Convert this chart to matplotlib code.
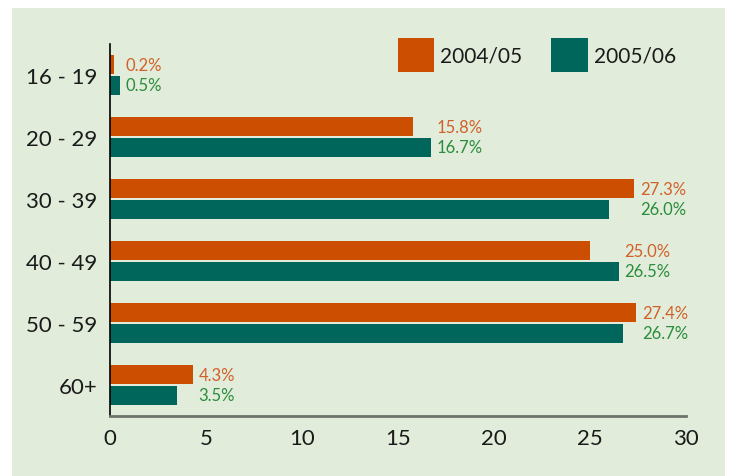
import matplotlib.pyplot as plt
from matplotlib.patches import Rectangle

plt.rcParams['font.family'] = ['Lato', 'DejaVu Sans']

ages = ['16 - 19', '20 - 29', '30 - 39', '40 - 49', '50 - 59', '60+']
y0405 = [0.2, 15.8, 27.3, 25.0, 27.4, 4.3]
y0506 = [0.5, 16.7, 26.0, 26.5, 26.7, 3.5]
series_names = ['2004/05', '2005/06']

orange = '#cc4e00'
teal = '#00665c'
bg = '#e1edda'

fig = plt.figure(figsize=(7.3, 4.77), dpi=100)
fig.patch.set_facecolor('white')
fig.patches.append(Rectangle((12/730, 0), 713/730, 468/477, transform=fig.transFigure,
                             facecolor=bg, edgecolor='none', zorder=-10))

ax = fig.add_axes((110/730, 60/477, 576/730, 372/477))
ax.set_facecolor('none')

pos = list(range(len(ages)))
h = 0.31
off = 0.165
ax.barh([p - off for p in pos], y0405, height=h, color=orange, label=series_names[0])
ax.barh([p + off for p in pos], y0506, height=h, color=teal, label=series_names[1])

for p, a, b in zip(pos, y0405, y0506):
    x = max(a, b) + 0.3
    ax.text(x, p - off, f'{a:.1f}%', color='#d2602a', fontsize=12, va='center', ha='left')
    ax.text(x, p + off, f'{b:.1f}%', color='#2a8c3c', fontsize=12, va='center', ha='left')

ax.set_ylim(5.5, -0.5)
ax.set_xlim(0, 30)
ax.set_yticks(pos)
ax.set_yticklabels(ages, fontsize=16, color='#1a1a1a')
ax.set_xticks(range(0, 31, 5))
ax.tick_params(axis='x', length=0, pad=9, labelsize=16, labelcolor='#1a1a1a')
ax.tick_params(axis='y', length=0, pad=9)

for s in ['top', 'right']:
    ax.spines[s].set_visible(False)
ax.spines['left'].set_color('black')
ax.spines['left'].set_linewidth(1.2)
ax.spines['bottom'].set_color('#6e736a')
ax.spines['bottom'].set_linewidth(2)

leg = ax.legend(loc='upper right', bbox_to_anchor=(0.9966, 1.0385), ncol=2, frameon=False,
                fontsize=15, handlelength=1.73, handleheight=2.14, handletextpad=0.29,
                columnspacing=1.4, borderaxespad=0, labelcolor='#1a1a1a')

fig.savefig('out.png', dpi=100, facecolor=fig.get_facecolor())
